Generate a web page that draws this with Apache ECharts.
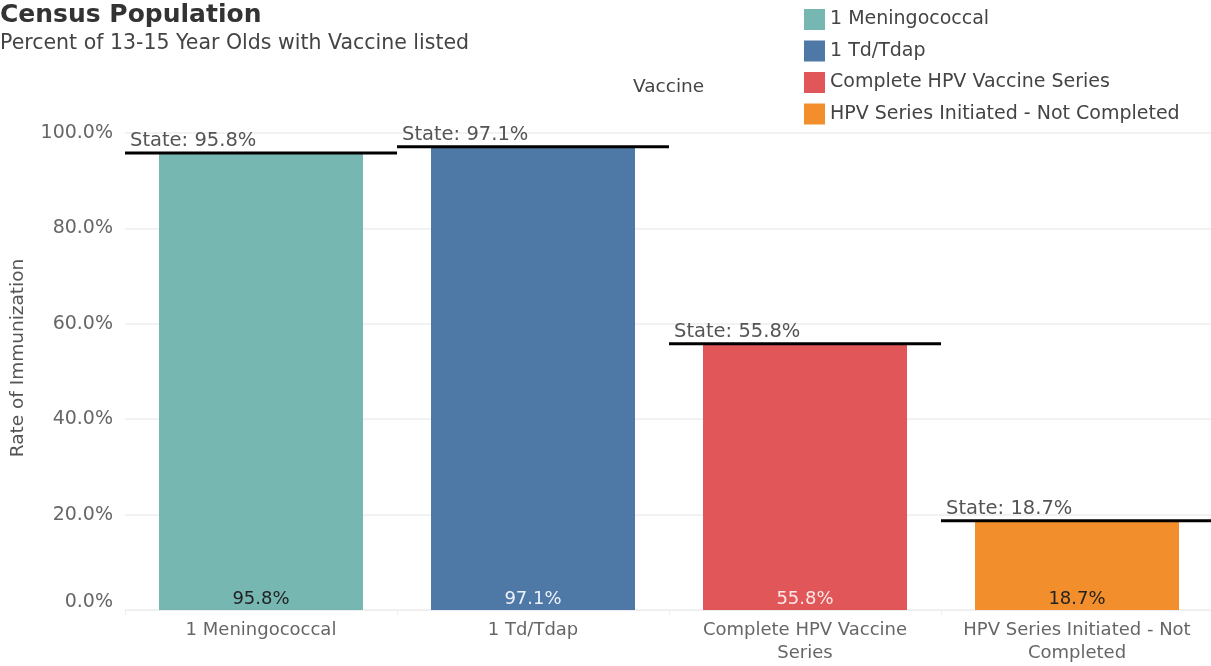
<!DOCTYPE html>
<html><head><meta charset="utf-8">
<script src="https://cdn.jsdelivr.net/npm/echarts@6/dist/echarts.min.js"></script>
<style>html,body{margin:0;padding:0;background:#fff}#c{width:1211px;height:666px}</style>
</head><body><div id="c"></div>
<script>
const categories = ['1 Meningococcal', '1 Td/Tdap', 'Complete HPV Vaccine Series', 'HPV Series Initiated - Not Completed'];
const tickLabels = ['1 Meningococcal', '1 Td/Tdap', 'Complete HPV Vaccine\nSeries', 'HPV Series Initiated - Not\nCompleted'];
const values = [95.8, 97.1, 55.8, 18.7];
const stateValues = [95.8, 97.1, 55.8, 18.7];
const colors = ['#76b7b2', '#4e79a7', '#e15759', '#f28e2b'];
const valueLabelColors = ['#222', '#eef2f8', '#fde8e8', '#222'];
const FONT = 'DejaVu Sans';

const chart = echarts.init(document.getElementById('c'));
const barSeries = categories.map((name, i) => ({
  name: name,
  type: 'bar',
  barWidth: '75%',
  barGap: '-100%',
  itemStyle: { color: colors[i] },
  data: categories.map((c, j) => j === i ? values[j] : '-'),
  label: {
    show: true, position: 'insideBottom', distance: 2,
    formatter: p => p.value.toFixed(1) + '%',
    color: valueLabelColors[i], fontFamily: FONT, fontSize: 18
  },
  z: 2
}));

const stateSeries = {
  type: 'custom',
  name: 'State',
  data: stateValues.map((v, i) => [i, v]),
  z: 5,
  renderItem: function (params, api) {
    const c = api.coord([api.value(0), api.value(1)]);
    const bw = api.size([1, 0])[0];
    const x0 = c[0] - bw / 2, x1 = c[0] + bw / 2;
    return {
      type: 'group',
      children: [
        { type: 'line', shape: { x1: x0, y1: c[1], x2: x1, y2: c[1] },
          style: { stroke: '#000', lineWidth: 3 } },
        { type: 'text', x: x0 + 5, y: c[1] - 2,
          style: { text: 'State: ' + api.value(1).toFixed(1) + '%', fill: '#555',
            font: '19.5px "DejaVu Sans"', textAlign: 'left', textVerticalAlign: 'bottom' } }
      ]
    };
  }
};

chart.setOption({
  animation: false,
  textStyle: { fontFamily: FONT },
  title: {
    text: 'Census Population',
    subtext: 'Percent of 13-15 Year Olds with Vaccine listed',
    left: 0, top: 3, itemGap: 5, padding: 0,
    textStyle: { fontFamily: FONT, fontSize: 25, fontWeight: 'bold', color: '#333' },
    subtextStyle: { fontFamily: FONT, fontSize: 20.5, color: '#444' }
  },
  legend: {
    data: categories,
    orient: 'vertical', left: 799, top: 4,
    icon: 'rect', itemWidth: 21, itemHeight: 21, itemGap: 10.5, itemStyle: { borderWidth: 0 },
    textStyle: { fontFamily: FONT, fontSize: 19, color: '#444' }
  },
  graphic: [{
    type: 'text', left: 633, top: 78,
    style: { text: 'Vaccine', font: '18.5px "DejaVu Sans"', fill: '#444' }
  }, {
    type: 'text', x: 18, y: 358, rotation: Math.PI / 2,
    style: { text: 'Rate of Immunization', font: '18.5px "DejaVu Sans"', fill: '#555',
      align: 'center', verticalAlign: 'middle' }
  }],
  grid: { left: 125, right: -2, top: 133, bottom: 56, containLabel: false, outerBoundsMode: 'none' },
  xAxis: {
    type: 'category', data: categories,
    axisLine: { show: true, lineStyle: { color: '#eee' } },
    axisTick: { show: true, length: 5, lineStyle: { color: '#eee' } },
    axisLabel: {
      interval: 0, hideOverlap: false,
      color: '#666', fontFamily: FONT, fontSize: 18, margin: 9, lineHeight: 23,
      formatter: (v, i) => tickLabels[i]
    }
  },
  yAxis: {
    type: 'value', min: 0, max: 100, interval: 20,
    axisLabel: { color: '#666', fontFamily: FONT, fontSize: 19, margin: 12,
      formatter: v => v === 0 ? '{z|0.0%}' : v.toFixed(1) + '%',
      rich: { z: { color: '#666', fontFamily: FONT, fontSize: 19, padding: [0, 0, 16, 0] } } },
    splitLine: { lineStyle: { color: '#eee', width: 1.5 } },
    axisLine: { show: false }, axisTick: { show: false }
  },
  series: barSeries.concat([stateSeries])
});
</script></body></html>
